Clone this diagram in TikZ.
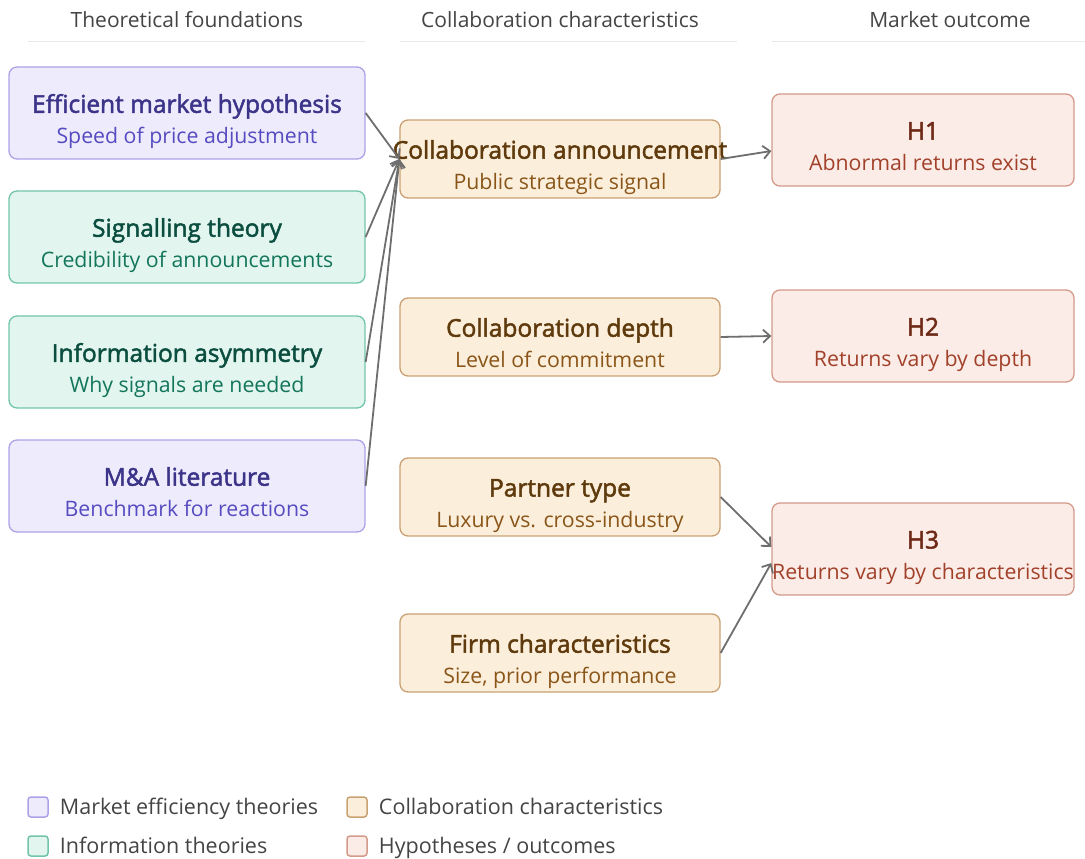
\documentclass[tikz,border=0pt]{standalone}
\usepackage{fontspec}
\setmainfont{Open Sans}
\newfontfamily\headfont[FakeBold=2]{Open Sans}
\usetikzlibrary{positioning, arrows.meta}

\definecolor{mktFill}{HTML}{EEECFC}
\definecolor{mktLine}{HTML}{ABA3E8}
\definecolor{mktHead}{HTML}{3C3489}
\definecolor{mktSub}{HTML}{564BC0}
\definecolor{infFill}{HTML}{E2F5EE}
\definecolor{infLine}{HTML}{72C6A8}
\definecolor{infHead}{HTML}{0B4E40}
\definecolor{infSub}{HTML}{13765B}
\definecolor{colFill}{HTML}{FBEEDB}
\definecolor{colLine}{HTML}{C9A274}
\definecolor{colHead}{HTML}{5E3A0C}
\definecolor{colSub}{HTML}{8A5518}
\definecolor{hypFill}{HTML}{FBECE8}
\definecolor{hypLine}{HTML}{D49A8A}
\definecolor{hypHead}{HTML}{6E2A17}
\definecolor{hypSub}{HTML}{A2412A}
\definecolor{arrowGray}{HTML}{6E6E6E}
\definecolor{labelGray}{HTML}{444444}

% title + subtitle, centred, allowed to run past the box
\newcommand{\twoline}[2]{\makebox[0pt]{\raisebox{-15pt}[0pt][0pt]{\begin{tabular}{@{}c@{}}%
    {\headfont\fontsize{24.5}{26}\selectfont\color{headcol}#1}\\[5pt]#2\end{tabular}}}}

\begin{document}
\begin{tikzpicture}[
    x=1pt, y=-1pt,
    >=Stealth,
    font=\fontsize{21.3}{26}\selectfont,
    box/.style={
        draw, line width=1.3pt, rounded corners=8pt,
        inner sep=0pt,
    },
    market/.style={box, fill=mktFill, draw=mktLine, text=mktSub,
        execute at begin node=\colorlet{headcol}{mktHead},
        minimum width=356pt, minimum height=92pt},
    info/.style={box, fill=infFill, draw=infLine, text=infSub,
        execute at begin node=\colorlet{headcol}{infHead},
        minimum width=356pt, minimum height=92pt},
    collab/.style={box, fill=colFill, draw=colLine, text=colSub,
        execute at begin node=\colorlet{headcol}{colHead},
        minimum width=320pt, minimum height=78pt},
    hyp/.style={box, fill=hypFill, draw=hypLine, text=hypSub,
        execute at begin node=\colorlet{headcol}{hypHead},
        minimum width=302pt, minimum height=92pt},
    colhead/.style={text=labelGray, inner sep=0pt, font=\fontsize{21}{24}\selectfont},
    underline/.style={draw=black!9, line width=1pt},
    conn/.style={-{Straight Barb[length=7pt,width=13pt]}, line width=1.8pt, draw=arrowGray},
    legsq/.style={line width=1.5pt, rounded corners=3pt, minimum size=20pt, inner sep=0pt},
    legtxt/.style={text=labelGray, inner sep=0pt, anchor=west,
        text height=17pt, text depth=3pt, font=\fontsize{21.5}{24}\selectfont},
]
\useasboundingbox (0,0) rectangle (1085,859);

\def\colA{187}
\def\colB{560}
\def\colC{923}

% column headings
\node[colhead] (hA) at (187,20) {Theoretical foundations};
\node[colhead] (hB) at (560,20) {Collaboration characteristics};
\node[colhead] (hC) at (950,20) {Market outcome};
\draw[underline] (28,42) -- (365,42);
\draw[underline] (400,42) -- (737,42);
\draw[underline] (772,42) -- (1085,42);

% theories
\node[market] (T1) at (\colA,113) {\twoline{Efficient market hypothesis}{Speed of price adjustment}};
\node[info]   (T2) at (\colA,237) {\twoline{Signalling theory}{Credibility of announcements}};
\node[info]   (T3) at (\colA,362) {\twoline{Information asymmetry}{Why signals are needed}};
\node[market] (T4) at (\colA,486) {\twoline{M\&A literature}{Benchmark for reactions}};

% characteristics
\node[collab] (C1) at (\colB,159) {\twoline{Collaboration announcement}{Public strategic signal}};
\node[collab] (C2) at (\colB,337) {\twoline{Collaboration depth}{Level of commitment}};
\node[collab] (C3) at (\colB,497) {\twoline{Partner type}{Luxury vs. cross-industry}};
\node[collab] (C4) at (\colB,653) {\twoline{Firm characteristics}{Size, prior performance}};

% hypotheses
\node[hyp] (H1) at (\colC,140) {\twoline{H1}{Abnormal returns exist}};
\node[hyp] (H2) at (\colC,336) {\twoline{H2}{Returns vary by depth}};
\node[hyp] (H3) at (\colC,549) {\twoline{H3}{Returns vary by characteristics}};

% links
\foreach \t in {T1, T2, T3, T4}
    \draw[conn] (\t.east) -- (C1.west);
\draw[conn] (C1.east) -- ([yshift=-11pt]H1.west);
\draw[conn] (C2.east) -- (H2.west);
\draw[conn] (C3.east) -- ([yshift=2pt]H3.west);
\draw[conn] (C4.east) -- ([yshift=-14pt]H3.west);

% legend
\node[legsq, fill=mktFill, draw=mktLine] (L1) at (38,807) {};
\node[legtxt, right=11pt of L1] {Market efficiency theories};
\node[legsq, fill=infFill, draw=infLine] (L2) at (38,846) {};
\node[legtxt, right=11pt of L2] {Information theories};
\node[legsq, fill=colFill, draw=colLine] (L3) at (357,807) {};
\node[legtxt, right=11pt of L3] {Collaboration characteristics};
\node[legsq, fill=hypFill, draw=hypLine] (L4) at (357,846) {};
\node[legtxt, right=11pt of L4] {Hypotheses / outcomes};

\end{tikzpicture}
\end{document}
